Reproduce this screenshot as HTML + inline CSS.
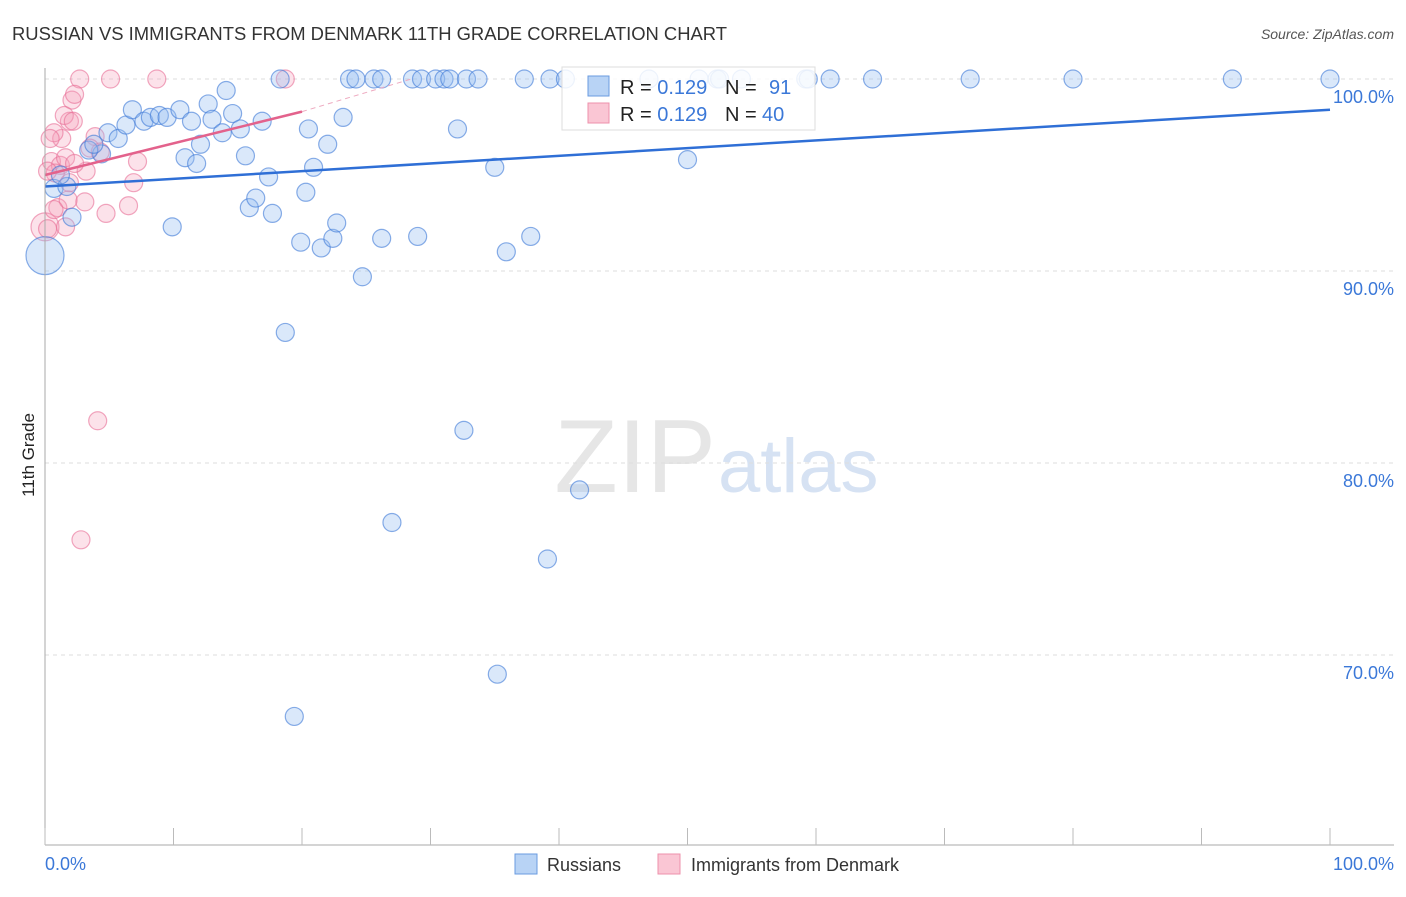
<!DOCTYPE html>
<html><head><meta charset="utf-8"><style>
body{margin:0;background:#fff;font-family:"Liberation Sans",sans-serif;}
svg text{font-family:"Liberation Sans",sans-serif;}
</style></head><body>
<svg id="chart" width="1406" height="892" viewBox="0 0 1406 892">
<text x="12" y="40" font-size="18" fill="#333" textLength="715" lengthAdjust="spacingAndGlyphs">RUSSIAN VS IMMIGRANTS FROM DENMARK 11TH GRADE CORRELATION CHART</text>
<text x="1394" y="39" font-size="14" fill="#555" font-style="italic" text-anchor="end">Source: ZipAtlas.com</text>
<text x="34" y="455" font-size="17" fill="#222" transform="rotate(-90 34 455)" text-anchor="middle">11th Grade</text>
<text x="716" y="492" font-size="104" fill="#e6e6e6" font-family="Liberation Serif" text-anchor="end">ZIP</text>
<text x="718" y="492" font-size="76" fill="#d6e2f3">atlas</text>
<g id="grid"></g><g id="pts"></g><g id="lines"></g>
<line x1="45" y1="68" x2="45" y2="845" stroke="#aaa"/>
<line x1="45" y1="845" x2="1394" y2="845" stroke="#aaa"/>
<g id="xt"></g>
<text x="45" y="870" font-size="18" fill="#3b78d8">0.0%</text>
<text x="1394" y="870" font-size="18" fill="#3b78d8" text-anchor="end">100.0%</text>
<g>
<rect x="515" y="854" width="22" height="20" fill="#b8d3f5" stroke="#6a9be0"/>
<text x="547" y="871" font-size="18" fill="#333">Russians</text>
<rect x="658" y="854" width="22" height="20" fill="#fac6d4" stroke="#ee90ab"/>
<text x="691" y="871" font-size="18" fill="#333">Immigrants from Denmark</text>
</g>
<g>
<rect x="562" y="67" width="253" height="63" fill="rgba(255,255,255,0.85)" stroke="#ddd"/>
<rect x="588" y="76" width="21" height="20" fill="#b8d3f5" stroke="#6a9be0"/>
<text x="620" y="94" font-size="20" fill="#222">R = <tspan fill="#3b78d8">0.129</tspan></text>
<text x="725" y="94" font-size="20" fill="#222">N =</text>
<text x="769" y="94" font-size="20" fill="#3b78d8">91</text>
<rect x="588" y="103" width="21" height="20" fill="#fac6d4" stroke="#ee90ab"/>
<text x="620" y="121" font-size="20" fill="#222">R = <tspan fill="#3b78d8">0.129</tspan></text>
<text x="725" y="121" font-size="20" fill="#222">N =</text>
<text x="762" y="121" font-size="20" fill="#3b78d8">40</text>
</g>
</svg>
<script>
const yTicks=[100,90,80,70];
const russians=[[0,90.8,19],[0.7,94.3],[1.7,94.4],[1.2,95.0],[2.1,92.8],[4.4,96.1],[3.4,96.3],[3.8,96.6],[4.9,97.2],[5.7,96.9],[6.3,97.6],[6.8,98.4],[7.7,97.8],[8.2,98.0],[8.9,98.1],[9.5,98.0],[10.5,98.4],[11.4,97.8],[10.9,95.9],[9.9,92.3],[11.8,95.6],[12.1,96.6],[12.7,98.7],[13.0,97.9],[13.8,97.2],[14.1,99.4],[14.6,98.2],[15.2,97.4],[15.6,96.0],[15.9,93.3],[16.4,93.8],[16.9,97.8],[17.4,94.9],[17.7,93.0],[18.7,86.8],[19.4,66.8],[19.9,91.5],[20.3,94.1],[20.5,97.4],[20.9,95.4],[21.5,91.2],[22.0,96.6],[22.4,91.7],[22.7,92.5],[23.2,98.0],[24.7,89.7],[26.2,91.7],[27.0,76.9],[29.0,91.8],[32.1,97.4],[32.6,81.7],[35.0,95.4],[35.2,69.0],[35.9,91.0],[37.8,91.8],[39.1,75.0],[41.6,78.6],[50.0,95.8],
[18.3,100],[23.7,100],[24.2,100],[25.6,100],[26.2,100],[28.6,100],[29.3,100],[30.4,100],[31.05,100],[31.5,100],[32.8,100],[33.7,100],[37.3,100],[39.3,100],[40.5,100],[47.0,100],[50.9,100],[52.3,100],[54.2,100],[59.2,100],[61.1,100],[64.4,100],[72.0,100],[80.0,100],[92.4,100],[100,100],[52.5,100],[59.4,100]];
const denmark=[[0,92.3,14],[2.7,100],[5.1,100],[8.7,100],[18.7,100],[2.1,98.9],[2.3,99.2],[1.9,97.8],[1.5,98.1],[2.2,97.8],[1.3,96.9],[0.7,97.2],[0.4,96.9],[3.9,97.0],[3.5,96.4],[0.5,95.7],[1.2,95.5],[0.8,95.1],[0.2,95.2],[3.2,95.2],[1.6,95.9],[1.9,94.6],[6.9,94.6],[7.2,95.7],[1.0,93.3],[1.8,93.7],[3.1,93.6],[4.75,93.0],[6.5,93.4],[1.6,92.3],[0.2,92.2],[0.7,93.2],[4.1,82.2],[2.8,76.0],[4.3,96.2],[2.3,95.6]];
const trendR=[[0,94.4],[100,98.4]];
const trendD=[[0,95.0],[20,98.3],[28.5,100]];
const X=v=>45+v*12.85, Y=v=>79+(100-v)*19.2;
const NS="http://www.w3.org/2000/svg";
function mk(tag,attrs,parent){const e=document.createElementNS(NS,tag);for(const k in attrs)e.setAttribute(k,attrs[k]);document.getElementById(parent).appendChild(e);return e;}
yTicks.forEach(t=>{
  const l=mk('line',{x1:45,x2:1394,y1:Y(t),y2:Y(t),stroke:'#ddd','stroke-dasharray':'4 4'},'grid');
  
  
  const tx=mk('text',{x:1394,y:Y(t)+24,'font-size':18,fill:'#3b78d8','text-anchor':'end'},'grid');
  tx.textContent=t.toFixed(1)+'%';
  
  
});
for(let i=0;i<=10;i++){
  const l=mk('line',{x1:X(i*10),x2:X(i*10),y1:828,y2:845,stroke:'#bbb'},'xt');
  
  
}
denmark.forEach(p=>{
  const c=mk('circle',{cx:X(p[0]),cy:Y(p[1]),r:p[2]||9,fill:'rgba(246,160,185,0.3)',stroke:'rgba(232,110,150,0.6)','stroke-width':1.2},'pts');
  
  
});
russians.forEach(p=>{
  const c=mk('circle',{cx:X(p[0]),cy:Y(p[1]),r:p[2]||9,fill:'rgba(150,190,240,0.35)',stroke:'rgba(60,120,215,0.6)','stroke-width':1.2},'pts');
  
  
});
let l=mk('line',{x1:X(trendR[0][0]),y1:Y(trendR[0][1]),x2:X(trendR[1][0]),y2:Y(trendR[1][1]),stroke:'#2f6fd6','stroke-width':2.5},'lines');


l=mk('line',{x1:X(trendD[0][0]),y1:Y(trendD[0][1]),x2:X(trendD[1][0]),y2:Y(trendD[1][1]),stroke:'#e3628c','stroke-width':2.5},'lines');


l=mk('line',{x1:X(trendD[1][0]),y1:Y(trendD[1][1]),x2:X(trendD[2][0]),y2:Y(trendD[2][1]),stroke:'#eeaac0','stroke-width':1,'stroke-dasharray':'5 4'},'lines');


</script>
</body></html>
